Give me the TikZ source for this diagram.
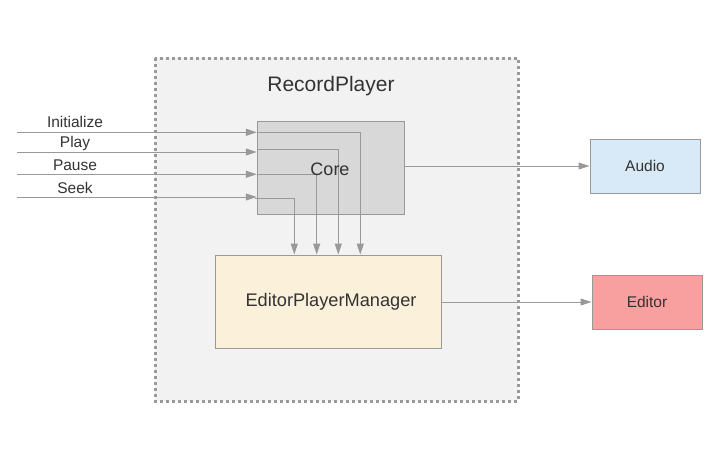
\documentclass[tikz,border=0pt]{standalone}
\usepackage{fontspec}
\setmainfont{Liberation Sans}
\usetikzlibrary{arrows.meta}
\definecolor{lineg}{HTML}{999999}
\definecolor{txt}{HTML}{333333}
\definecolor{outerfill}{HTML}{F2F2F2}
\definecolor{corefill}{HTML}{D8D8D8}
\definecolor{epmfill}{HTML}{FBF0DA}
\definecolor{audiofill}{HTML}{D8EAF7}
\definecolor{editorfill}{HTML}{F8A0A0}
\begin{document}
\begin{tikzpicture}[x=1pt,y=-1pt,
  box/.style={draw=lineg,line width=1pt,inner sep=0pt,text=txt},
  conn/.style={draw=lineg,line width=1pt,-{Triangle[length=11pt,width=7pt]}},
  lbl/.style={text=txt,font=\fontsize{15.5}{18}\selectfont,inner sep=0pt}]
\useasboundingbox (0,0) rectangle (725,466);
\fill[white] (0,0) rectangle (725,466);
% outer container
\draw[fill=outerfill,draw=lineg,line width=3pt,dash pattern=on 3pt off 3pt] (155,58) rectangle (518,401);
\node[text=txt,font=\fontsize{21}{24}\selectfont,inner sep=0pt] (title) at (331,86) {RecordPlayer};
% boxes
\node[box,fill=corefill,minimum width=147pt,minimum height=93pt] (core) at (330.8,167.8) {};
\node[box,fill=epmfill,minimum width=226pt,minimum height=93pt] (epm) at (328,301.5) {};
\node[text=txt,inner sep=0pt,font=\fontsize{18.2}{21}\selectfont] (epmtext) at (331,302) {EditorPlayerManager};
\node[box,fill=audiofill,minimum width=110pt,minimum height=54pt,font=\fontsize{15.5}{18}\selectfont] (audio) at (645,166) {Audio};
\node[box,fill=editorfill,minimum width=110pt,minimum height=54pt,font=\fontsize{15.5}{18}\selectfont] (editor) at (647,302) {Editor};
% free ends of inputs
\coordinate (i1) at (17,132.3);
\coordinate (i2) at (17,152);
\coordinate (i3) at (17,174.3);
\coordinate (i4) at (17,197);
\node[lbl] (l1) at (75,122) {Initialize};
\node[lbl] (l2) at (75,143.5) {Play};
\node[lbl] (l3) at (75,165.5) {Pause};
\node[lbl] (l4) at (75,187.5) {Seek};
\draw[conn] (i1) -- (core.west |- i1);
\draw[conn] (i2) -- (core.west |- i2);
\draw[conn] (i3) -- (core.west |- i3);
\draw[conn] (i4) -- (core.west |- i4);
% internal routes from core to epm
\draw[conn] (core.west |- 0,132.3) -- (360.3,132.3) -- (epm.north -| 360.3,0);
\draw[conn] (core.west |- 0,149.7) -- (338.3,149.7) -- (epm.north -| 338.3,0);
\draw[conn] (core.west |- 0,174.3) -- (316.7,174.3) -- (epm.north -| 316.7,0);
\draw[conn] (255,198.3) -- (294.3,198.3) -- (epm.north -| 294.3,0);
\node[text=txt,font=\fontsize{18}{21}\selectfont,inner sep=0pt] (coretext) at (330,169) {Core};
% outputs
\draw[conn] (core.east |- audio.west) -- (audio.west);
\draw[conn] (epm.east |- editor.west) -- (editor.west);
\end{tikzpicture}
\end{document}
